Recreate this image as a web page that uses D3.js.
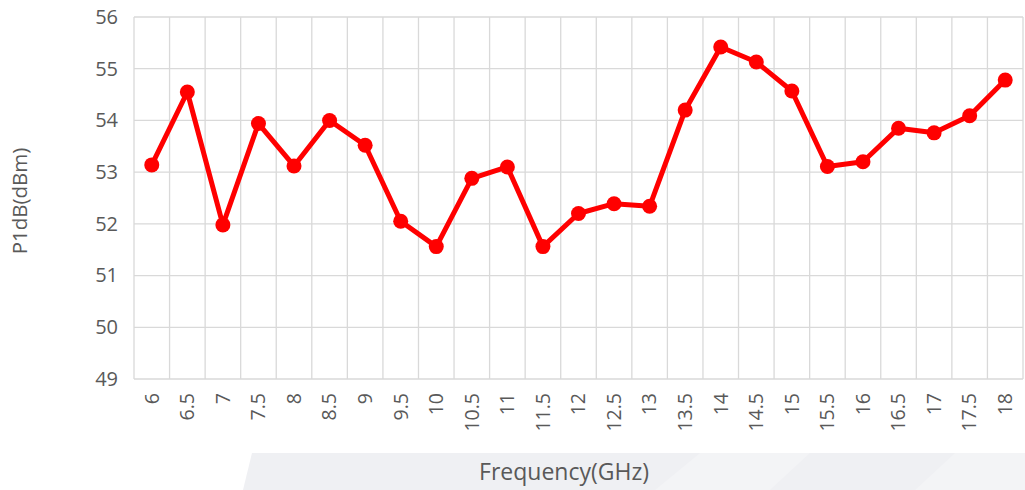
<!DOCTYPE html>
<html>
<head>
<meta charset="utf-8">
<script src="https://cdn.jsdelivr.net/npm/d3@7"></script>
<style>
  html, body { margin: 0; padding: 0; background: #fff; }
  svg { display: block; }
</style>
</head>
<body>
<svg id="chart" width="1025" height="490"></svg>
<script>
const categories = ["6","6.5","7","7.5","8","8.5","9","9.5","10","10.5","11","11.5","12","12.5","13","13.5","14","14.5","15","15.5","16","16.5","17","17.5","18"];
const p1dbValues = [53.14,54.55,51.98,53.94,53.12,54.0,53.52,52.05,51.56,52.88,53.10,51.56,52.2,52.39,52.34,54.2,55.42,55.13,54.57,53.11,53.2,53.85,53.76,54.09,54.78];
const yTicks = [49,50,51,52,53,54,55,56];
const xTitle = "Frequency(GHz)";
const yTitle = "P1dB(dBm)";

const svg = d3.select("#chart");
const W = 1025, H = 490;
const m = {left: 134, right: 2, top: 17, bottom: 112};
const font = "'Open Sans', sans-serif";
const textColor = "#595959";
const gridColor = "#d9d9d9";

// background watermark band
const bg = svg.append("g");
bg.append("path")
  .attr("d", "M252,453 L1025,453 L1025,490 L243,490 Z")
  .attr("fill", "#eff0f3");
bg.append("path")
  .attr("d", "M700,453 L810,453 L770,490 L655,490 Z")
  .attr("fill", "#ffffff").attr("opacity", 0.25);
bg.append("path")
  .attr("d", "M955,453 L1025,453 L1025,490 L915,490 Z")
  .attr("fill", "#ffffff").attr("opacity", 0.25);

const x = d3.scaleBand().domain(categories).range([m.left, W - m.right]).padding(0);
const y = d3.scaleLinear().domain([49, 56]).range([H - m.bottom + 1, m.top]);

// horizontal grid
svg.append("g").selectAll("line").data(yTicks).join("line")
  .attr("x1", m.left).attr("x2", W - m.right)
  .attr("y1", d => y(d)).attr("y2", d => y(d))
  .attr("stroke", gridColor).attr("stroke-width", 1.3);

// vertical grid at band boundaries
const bounds = categories.map(c => x(c)).concat([x(categories[categories.length-1]) + x.bandwidth()]);
svg.append("g").selectAll("line").data(bounds).join("line")
  .attr("x1", d => d).attr("x2", d => d)
  .attr("y1", y(56)).attr("y2", y(49))
  .attr("stroke", gridColor).attr("stroke-width", 1.3);

// y axis labels
const yAxis = d3.axisLeft(y).tickValues(yTicks).tickFormat(d3.format("d")).tickSize(0).tickPadding(16);
const gy = svg.append("g").attr("transform", `translate(${m.left},0)`).call(yAxis);
gy.select(".domain").remove();
gy.selectAll("text").attr("font-family", font).attr("font-size", 20).attr("fill", textColor);

// x axis labels
const xAxis = d3.axisBottom(x).tickSize(0).tickPadding(0);
const gx = svg.append("g").attr("transform", `translate(0,${y(49)})`).call(xAxis);
gx.select(".domain").remove();
gx.selectAll("text")
  .attr("font-family", font).attr("font-size", 19.5).attr("fill", textColor)
  .attr("text-anchor", "end")
  .attr("transform", "rotate(-90)")
  .attr("x", -14).attr("y", 0).attr("dy", "0.35em");

// line
const line = d3.line().x((d, i) => x(categories[i]) + x.bandwidth() / 2).y(d => y(d));
svg.append("path").datum(p1dbValues)
  .attr("d", line).attr("fill", "none")
  .attr("stroke", "#ff0000").attr("stroke-width", 5).attr("stroke-linejoin", "round");

svg.append("g").selectAll("circle").data(p1dbValues).join("circle")
  .attr("cx", (d, i) => x(categories[i]) + x.bandwidth() / 2)
  .attr("cy", d => y(d))
  .attr("r", 7.5)
  .attr("fill", "#ff0000");

// titles
svg.append("text").text(xTitle)
  .attr("x", 564).attr("y", 472).attr("dy", "0.35em")
  .attr("text-anchor", "middle")
  .attr("font-family", font).attr("font-size", 23).attr("fill", textColor);

svg.append("text").text(yTitle)
  .attr("transform", `translate(20,201) rotate(-90)`)
  .attr("dy", "0.35em")
  .attr("text-anchor", "middle")
  .attr("font-family", font).attr("font-size", 20.5).attr("fill", textColor);
</script>
</body>
</html>
